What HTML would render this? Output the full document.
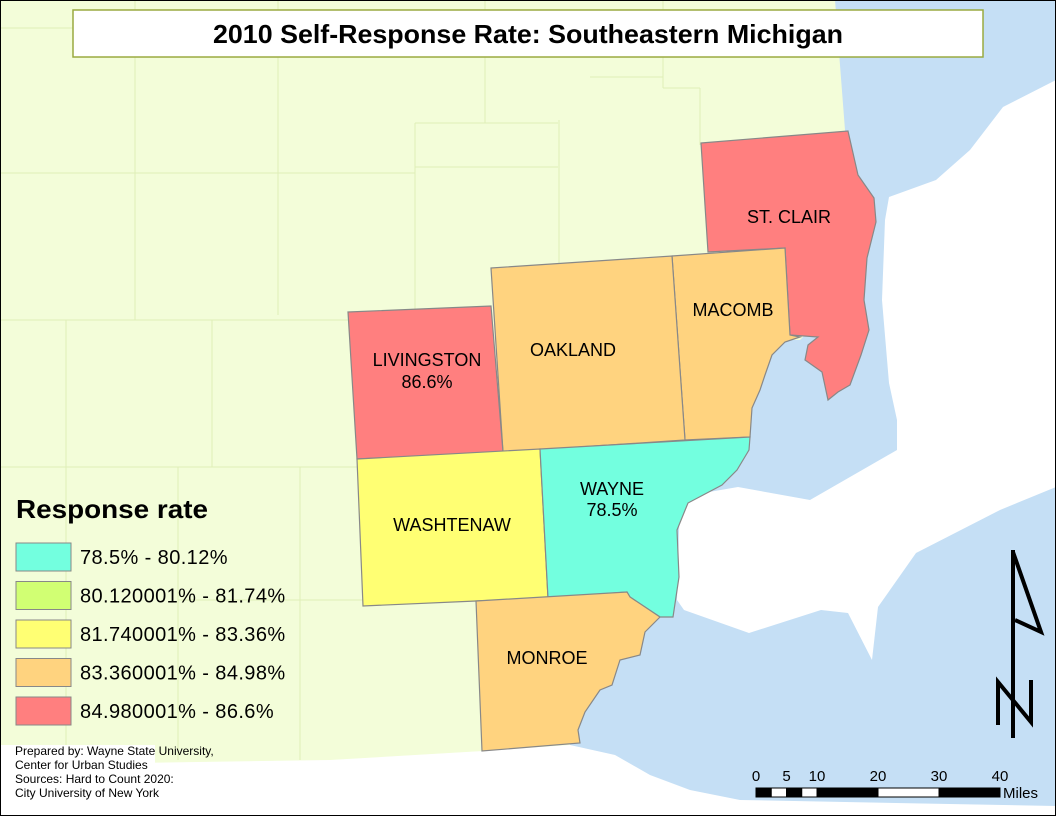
<!DOCTYPE html>
<html><head><meta charset="utf-8"><style>
html,body{margin:0;padding:0;background:#fff}
svg{display:block;font-family:"Liberation Sans",Arial,sans-serif}
</style></head><body>
<svg id="map" width="1056" height="816" viewBox="0 0 1056 816">
<rect x="0" y="0" width="1056" height="816" fill="#f3fdd9"/>
<g stroke="#dfeeb8" stroke-width="1" fill="none">
<path d="M135 0V320 M278 0V315 M415 123V310 M485 0V123 M559 120V310 M663 0V88 M700 88V145 M66 320V816 M212 320V467 M178 467V760 M300 467V760"/>
<path d="M0 28H135 M0 173H415 M415 167H558 M415 123H558 M590 77H663 M663 88H700 M0 320H348 M0 467H357 M178 600H363"/>
</g>
<polygon fill="#c5dff5" points="835,0 1056,0 1056,816 620,816 570,760 570,740 580,700 610,660 640,620 660,600 670,560 670,500 740,440 745,390 780,340 800,340 840,300 845,130"/>
<polygon fill="#ffffff" points="889,197 936,180 970,150 1003,107 1056,80 1056,487 1000,510 916,553 878,607 872,660 848,613 821,610 749,633 684,610 677,600 680,497 738,487 810,500 897,450 897,420 889,383 882,300 885,220"/>
<polygon fill="#ffffff" points="0,765 330,760 483,751 570,745 615,755 650,775 690,790 740,800 1056,806 1056,816 0,816"/>
<rect x="0" y="745" width="155" height="71" fill="#ffffff"/>
<g stroke="#888" stroke-width="1.2">
<polygon fill="#ff7f7f" points="701,143 848,131 858,175 874,198 876,222 867,258 864,300 869,330 861,355 850,385 838,392 828,400 822,372 805,360 808,345 818,337 790,335 785,248 708,252"/>
<polygon fill="#ffd37f" points="672,256 785,248 790,335 800,337 785,342 772,355 765,375 760,390 752,408 750,437 685,440"/>
<polygon fill="#ffd37f" points="491,268 672,256 685,440 503,452"/>
<polygon fill="#ff7f7f" points="348,312 491,306 503,452 357,459"/>
<polygon fill="#ffff73" points="357,459 540,449 548,598 476,601 363,606"/>
<polygon fill="#73ffdf" points="540,449 750,437 749,450 737,470 722,485 688,503 677,530 679,577 673,617 660,617 630,597 627,592 548,598"/>
<polygon fill="#ffd37f" points="476,601 627,592 630,597 660,617 645,632 640,655 620,660 612,685 600,690 585,712 578,730 580,743 482,751"/>
</g>
<g font-size="18" fill="#000" text-anchor="middle">
<text x="789" y="223">ST. CLAIR</text>
<text x="733" y="316">MACOMB</text>
<text x="573" y="356">OAKLAND</text>
<text x="427" y="366">LIVINGSTON</text>
<text x="427" y="388">86.6%</text>
<text x="452" y="531">WASHTENAW</text>
<text x="612" y="495">WAYNE</text>
<text x="612" y="516">78.5%</text>
<text x="547" y="664">MONROE</text>
</g>
<rect x="73" y="10" width="910" height="47" fill="#fff" stroke="#9aaa40" stroke-width="1.5"/>
<text x="213" y="43" textLength="630" lengthAdjust="spacingAndGlyphs" font-size="26" font-weight="bold">2010 Self-Response Rate: Southeastern Michigan</text>
<text x="16" y="518" font-size="26" font-weight="bold" textLength="192" lengthAdjust="spacingAndGlyphs">Response rate</text>
<g id="legend"></g>
<g font-size="12" fill="#000">
<text x="15" y="755">Prepared by: Wayne State University,</text>
<text x="15" y="769">Center for Urban Studies</text>
<text x="15" y="783">Sources: Hard to Count 2020:</text>
<text x="15" y="797">City University of New York</text>
</g>
<g id="scalebar"></g>
<g stroke="#000" fill="none" stroke-width="4">
<line x1="1013" y1="550" x2="1013" y2="738"/>
<polyline points="1013,552 1041,632 1015,620"/>
<polyline points="998,725 998,682 1031,722 1031,680"/>
</g>
<rect x="0.5" y="0.5" width="1055" height="815" fill="none" stroke="#000" stroke-width="1"/>
</svg>
<script>
const legendLabels = ["78.5% - 80.12%","80.120001% - 81.74%","81.740001% - 83.36%","83.360001% - 84.98%","84.980001% - 86.6%"];
const legendColors = ["#73ffdf","#d1ff73","#ffff73","#ffd37f","#ff7f7f"];
const scaleTicks = [0,5,10,20,30,40];
const NS="http://www.w3.org/2000/svg";
const lg=document.getElementById('legend');
legendLabels.forEach((lab,i)=>{
  const y=543+i*38.5;
  const r=document.createElementNS(NS,'rect');
  r.setAttribute('x',16);r.setAttribute('y',y);r.setAttribute('width',55);r.setAttribute('height',28);
  r.setAttribute('fill',legendColors[i]);r.setAttribute('stroke','#888');
  
  
  lg.appendChild(r);
  const t=document.createElementNS(NS,'text');
  t.setAttribute('x',80);t.setAttribute('y',y+21);t.setAttribute('font-size',20);
  t.setAttribute('letter-spacing','0.4');
  t.textContent=lab;
  
  
  lg.appendChild(t);
});
const sb=document.getElementById('scalebar');
const sx=v=>756+v*(1000-756)/40;
const segs=[0,2.5,5,7.5,10,20,30,40];
for(let i=0;i<segs.length-1;i++){
  const r=document.createElementNS(NS,'rect');
  r.setAttribute('x',sx(segs[i]));r.setAttribute('y',788);
  r.setAttribute('width',sx(segs[i+1])-sx(segs[i]));r.setAttribute('height',9);
  r.setAttribute('fill',i%2?'#fff':'#000');r.setAttribute('stroke','#000');
  
  
  sb.appendChild(r);
}
scaleTicks.forEach(v=>{
  const t=document.createElementNS(NS,'text');
  t.setAttribute('x',sx(v));t.setAttribute('y',781);t.setAttribute('font-size',15);
  t.setAttribute('text-anchor','middle');t.textContent=v;
  
  
  sb.appendChild(t);
});
const m=document.createElementNS(NS,'text');
m.setAttribute('x',1003);m.setAttribute('y',798);m.setAttribute('font-size',15);m.textContent='Miles';


sb.appendChild(m);
</script>
</body></html>
